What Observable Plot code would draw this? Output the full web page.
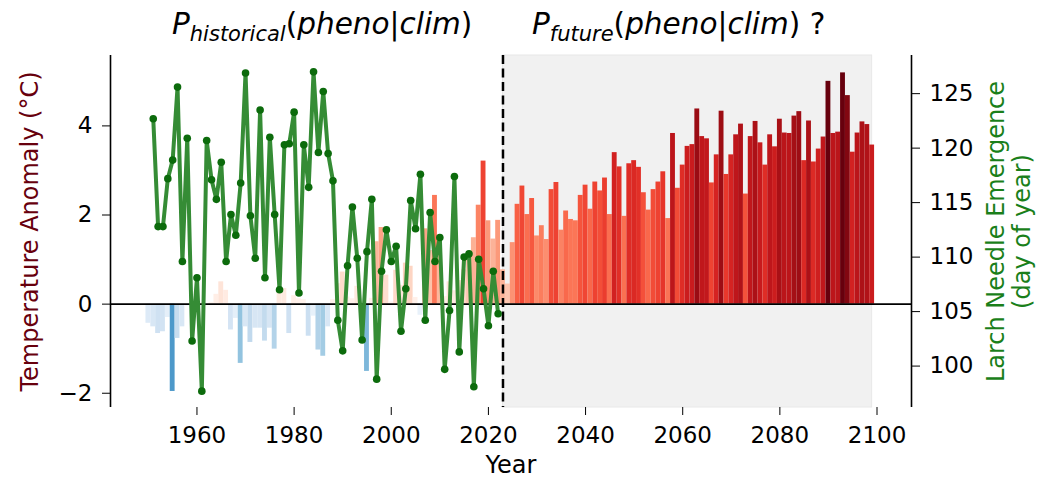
<!DOCTYPE html>
<html><head><meta charset="utf-8">
<script src="https://cdn.jsdelivr.net/npm/d3@7"></script>
<script src="https://cdn.jsdelivr.net/npm/@observablehq/plot@0.6"></script>
<style>
body{margin:0;background:#fff;}
#wrap{position:relative;width:1056px;height:481px;font-family:"DejaVu Sans",sans-serif;}
#chart{position:absolute;left:0;top:0;}
.title{position:absolute;top:7px;font-size:29.5px;line-height:34px;white-space:nowrap;color:#000;z-index:2;font-family:"DejaVu Sans";}
.title i{font-style:italic}
.title sub{font-size:21px;vertical-align:-7px;font-style:italic;line-height:0}
</style></head><body>
<div id="wrap">
 <div class="title" style="left:172px"><i>P</i><sub>historical</sub>(<i>pheno</i>|<i>clim</i>)</div>
 <div class="title" style="left:532px"><i>P</i><sub>future</sub>(<i>pheno</i>|<i>clim</i>) ?</div>
 <div id="chart"></div>
</div>
<script>
// ---- data ----
const startYear = 1950;           // first year of temperature anomaly bars
const tempAnom = [
 -0.43,-0.51,-0.66,-0.62,-0.30,-1.96,-0.77,-0.51,-0.05,0.04,
 -0.04,0.03,-0.03,0.04,0.22,0.50,0.31,-0.58,-0.32,-1.33,
 -0.51,-0.86,-0.54,-0.54,-0.83,-0.54,-1.01,0.35,0.35,-0.66,
 0.19,0.12,0.10,-0.72,-0.27,-1.03,-1.17,-0.51,0.10,0.46,
 0.72,0.16,0.12,0.40,0.05,-1.51,0.13,1.40,1.72,0.65,
 0.05,0.76,0.42,0.92,0.85,0.15,-0.25,1.69,1.20,2.44,
 1.38,0.17,0.50,0.30,0.53,0.77,1.10,1.49,2.22,3.21,
 1.87,1.46,1.88,0.77,0.45,
 1.38,2.24,2.65,2.01,2.37,1.53,1.76,1.45,2.57,2.73,
 1.66,2.09,1.90,1.87,2.44,2.67,2.13,2.74,2.54,2.83,
 2.01,3.40,3.08,1.97,3.15,3.22,3.07,2.50,2.11,2.57,
 2.74,2.97,1.92,3.83,2.60,3.12,3.54,3.58,4.38,3.76,
 3.71,2.72,3.35,4.33,2.91,3.35,3.80,4.04,2.47,3.76,
 4.10,3.62,3.12,3.80,3.53,4.15,3.84,3.83,4.22,4.32,
 3.22,4.11,3.19,3.48,3.75,5.00,3.83,3.86,5.19,4.68,
 3.41,3.84,4.09,4.03,3.57
];
const phenoStart = 1951;          // first year of needle emergence observations
const phenoDoy = [
 122.7,112.8,112.8,117.2,118.9,125.6,109.6,120.9,102.3,108.1,
 97.7,120.7,117.1,115.3,118.7,109.6,113.9,112.0,116.8,126.9,
 113.8,109.9,123.5,108.1,121.0,113.9,107.0,120.3,120.4,123.3,
 106.7,120.3,116.4,127.0,119.6,125.2,119.5,117.0,104.2,101.4,
 109.2,114.6,109.9,102.4,110.5,115.3,98.8,108.7,112.5,109.6,
 111.0,103.2,107.1,115.2,112.6,117.6,104.2,114.1,109.6,111.8,
 99.7,105.1,117.4,101.3,110.0,110.3,98.1,109.8,107.1,103.7,
 108.7,104.8
];
const splitYear = 2023;           // start of projection period (dashed line)
const spanEnd = 2099;             // end of shaded projection period
const xTicks = [1960,1980,2000,2020,2040,2060,2080,2100];
const yTicks = [-2,0,2,4];
const doyTicks = [100,105,110,115,120,125];
const xDomain = [1942.2, 2107.1];
const yDomain = [-2.32, 5.58];
const doyDomain = [96.2, 128.5];

// ---- helpers ----
const toLeft = d => yDomain[0] + (d - doyDomain[0]) / (doyDomain[1] - doyDomain[0]) * (yDomain[1] - yDomain[0]);
const fromLeft = v => doyDomain[0] + (v - yDomain[0]) / (yDomain[1] - yDomain[0]) * (doyDomain[1] - doyDomain[0]);
const bars = tempAnom.map((v, i) => ({year: startYear + i, v}));
const pheno = phenoDoy.map((d, i) => ({year: phenoStart + i, doy: d}));
const clamp = t => Math.max(0, Math.min(1, t));
function barColor(d) {
  if (d.v < 0) return d3.interpolateBlues(clamp(-d.v / 3.3));
  const t = d.year < splitYear ? d.v / 5.3 : (d.v + 0.8) / 5.8;
  return d3.interpolateReds(clamp(t));
}

const chart = Plot.plot({
  width: 1056, height: 481,
  marginTop: 55, marginBottom: 74, marginLeft: 110, marginRight: 145,
  style: {fontFamily: "DejaVu Sans", fontSize: "23px", background: "white", color: "black"},
  x: {domain: xDomain},
  y: {domain: yDomain},
  marks: [
    Plot.rect([{x1: splitYear, x2: spanEnd}], {x1: "x1", x2: "x2", fill: "#f1f1f1", stroke: "#e8e8e8"}),
    Plot.rectY(bars, {x1: d => d.year - 0.5, x2: d => d.year + 0.5, y1: 0, y2: "v", fill: barColor}),
    Plot.ruleY([0], {stroke: "black", strokeWidth: 1.6}),
    Plot.ruleX([splitYear], {stroke: "black", strokeWidth: 2.5, strokeDasharray: "9,4.5"}),
    Plot.line(pheno, {x: "year", y: d => toLeft(d.doy), stroke: "#358c35", strokeWidth: 4}),
    Plot.dot(pheno, {x: "year", y: d => toLeft(d.doy), r: 3.8, fill: "#0c6b0c", stroke: "none"}),
    Plot.ruleX(xDomain, {stroke: "black", strokeWidth: 1.6}),
    Plot.axisX({ticks: xTicks, tickSize: 8, tickPadding: 11, tickFormat: d => String(d), label: null, fontSize: 23}),
    Plot.axisY({ticks: yTicks, anchor: "left", tickSize: 8, tickPadding: 10, label: null, fontSize: 23}),
    Plot.axisY({ticks: doyTicks.map(toLeft), anchor: "right", tickSize: 8, tickPadding: 10,
      tickFormat: v => String(Math.round(fromLeft(v))), label: null, fontSize: 23}),
    Plot.text(["Temperature Anomaly (°C)"], {text: d => d, frameAnchor: "left", textAnchor: "middle", lineAnchor: "middle",
      rotate: -90, dx: -80, fill: "#67000d", fontSize: 24}),
    Plot.text(["Larch Needle Emergence\n(day of year)"], {text: d => d, frameAnchor: "right", textAnchor: "middle", lineAnchor: "middle",
      rotate: -90, dx: 97.5, fill: "#1a7f1a", fontSize: 24, lineHeight: 1.05}),
    Plot.text(["Year"], {text: d => d, frameAnchor: "bottom", textAnchor: "middle", lineAnchor: "middle", dy: 58, fontSize: 24})
  ]
});
document.getElementById("chart").appendChild(chart);
</script>
</body></html>
